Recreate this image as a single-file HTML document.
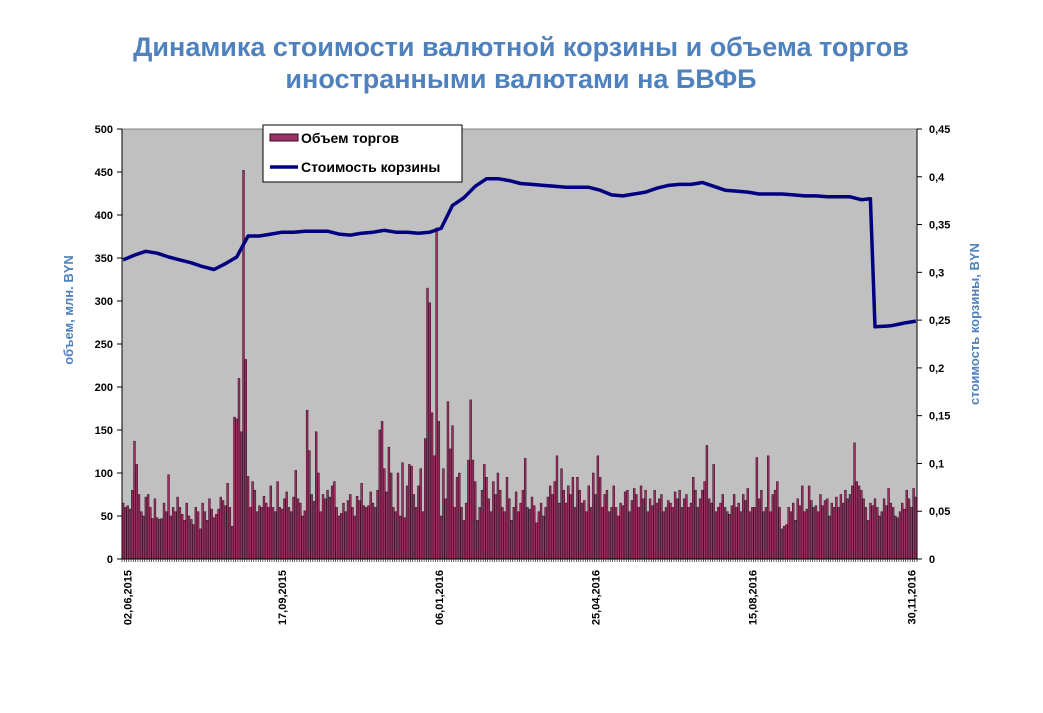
<!DOCTYPE html>
<html><head><meta charset="utf-8"><style>
body{margin:0;background:#fff;width:1043px;height:713px;overflow:hidden}
svg{display:block;font-family:"Liberation Sans",Arial,sans-serif}
</style></head><body>
<svg id="chart" width="1043" height="713">
<text x="521" y="56" text-anchor="middle" font-size="27" font-weight="bold" fill="#4f81bd">Динамика стоимости валютной корзины и объема торгов</text>
<text x="521" y="88" text-anchor="middle" font-size="27" font-weight="bold" fill="#4f81bd">иностранными валютами на БВФБ</text>
<rect x="122" y="129" width="795" height="430" fill="#c0c0c0" stroke="#808080" stroke-width="1"/>
<g id="bars"></g>
<g id="axes"></g>
<polyline id="line" fill="none" stroke="#000080" stroke-width="3.5" stroke-linejoin="round"/>
<g>
<rect x="263" y="125" width="199" height="57" fill="#fff" stroke="#000"/>
<rect x="270" y="134" width="28" height="7" fill="#993366" stroke="#3a0a1c"/>
<text x="301" y="143" font-size="14" font-weight="bold">Объем торгов</text>
<line x1="270" y1="167" x2="298" y2="167" stroke="#000080" stroke-width="3.5"/>
<text x="301" y="172" font-size="14" font-weight="bold">Стоимость корзины</text>
</g>
<text transform="translate(73,310) rotate(-90)" text-anchor="middle" font-size="13" font-weight="bold" fill="#4f81bd">объем, млн. BYN</text>
<text transform="translate(979,324) rotate(-90)" text-anchor="middle" font-size="13" font-weight="bold" fill="#4f81bd">стоимость корзины, BYN</text>
</svg>
<script>
const volumes=[65,60,62,58,80,137,110,75,55,50,
72,75,60,47,70,48,46,47,65,55,
98,50,60,55,72,60,52,45,65,50,
46,40,60,55,35,65,55,45,70,58,
48,52,58,72,68,62,88,60,38,165,
163,210,148,452,232,96,60,90,80,55,
62,60,73,65,60,85,60,55,90,60,
58,70,78,60,55,72,103,70,65,50,
56,173,126,75,67,148,100,55,75,70,
80,72,85,90,60,50,53,65,55,68,
75,60,50,73,68,88,62,60,62,78,
65,60,80,150,160,105,78,130,100,60,
55,100,50,112,48,85,110,108,75,60,
85,105,55,140,315,298,170,120,385,160,
50,105,70,183,128,155,60,95,100,60,
45,65,115,185,115,90,45,60,80,110,
95,70,55,90,75,100,80,60,55,95,
70,45,60,78,55,65,80,117,60,58,
72,62,42,55,65,50,60,72,85,75,
90,120,65,105,80,65,85,75,95,60,
95,80,65,68,55,85,60,100,75,120,
95,60,75,80,55,60,85,60,50,65,
62,78,80,55,68,82,75,60,85,70,
80,55,70,62,80,65,70,75,55,60,
68,65,60,78,70,80,60,70,75,60,
65,95,80,60,70,80,90,132,70,65,
110,55,60,65,75,60,55,52,62,75,
60,65,55,75,68,82,55,60,60,118,
70,80,55,60,120,55,75,80,90,60,
35,38,40,60,55,65,45,70,62,85,
55,58,85,68,60,62,55,75,62,68,
70,50,65,60,72,60,75,65,80,70,
75,85,135,90,85,80,70,60,45,65,
62,70,60,50,55,70,62,82,65,60,
50,48,55,65,58,80,70,60,82,72];
const lineIdx=[0,5,10,15,20,25,30,35,40,45,50,55,60,65,70,75,80,85,90,95,100,105,110,115,120,125,130,135,140,145,150,155,160,165,170,175,180,185,190,195,200,205,210,215,220,225,230,235,240,245,250,255,260,265,270,275,280,285,290,295,300,305,310,315,320,325,329,331,338,344,349];
const lineVal=[0.313,0.318,0.322,0.320,0.316,0.313,0.310,0.306,0.303,0.309,0.316,0.338,0.338,0.340,0.342,0.342,0.343,0.343,0.343,0.340,0.339,0.341,0.342,0.344,0.342,0.342,0.341,0.342,0.346,0.370,0.378,0.390,0.398,0.398,0.396,0.393,0.392,0.391,0.390,0.389,0.389,0.389,0.386,0.381,0.380,0.382,0.384,0.388,0.391,0.392,0.392,0.394,0.390,0.386,0.385,0.384,0.382,0.382,0.382,0.381,0.380,0.380,0.379,0.379,0.379,0.376,0.377,0.243,0.244,0.247,0.249];
const leftTicks=[0,50,100,150,200,250,300,350,400,450,500];
const rightTicks=["0","0,05","0,1","0,15","0,2","0,25","0,3","0,35","0,4","0,45"];
const dateLabels=["02,06,2015","17,09,2015","06,01,2016","25,04,2016","15,08,2016","30,11,2016"];
const dateIdx=[2,70,139,208,277,347];

const X0=122,X1=917,Y0=559,Y1=129,N=volumes.length,step=(X1-X0)/N;
const xs=i=>X0+(i+0.5)*step;
const yL=v=>Y0-(v/500)*(Y0-Y1);
const yR=v=>Y0-(v/0.45)*(Y0-Y1);
const NS="http://www.w3.org/2000/svg";
function mk(t,a){const e=document.createElementNS(NS,t);for(const k in a)e.setAttribute(k,a[k]);return e;}
const bars=document.getElementById('bars');
volumes.forEach((v,i)=>{const r=mk('rect',{x:(xs(i)-step/2+0.2).toFixed(2),y:yL(v).toFixed(2),width:(step-0.4).toFixed(2),height:(Y0-yL(v)).toFixed(2),fill:'#993366',stroke:'#3a0a1c','stroke-width':0.5});


bars.appendChild(r);});
document.getElementById('line').setAttribute('points',lineIdx.map((k,j)=>xs(k).toFixed(1)+','+yR(lineVal[j]).toFixed(1)).join(' '));
const ax=document.getElementById('axes');
ax.appendChild(mk('line',{x1:X0,y1:Y1,x2:X0,y2:Y0,stroke:'#000'}));
ax.appendChild(mk('line',{x1:X1,y1:Y1,x2:X1,y2:Y0,stroke:'#000'}));
ax.appendChild(mk('line',{x1:X0,y1:Y0,x2:X1,y2:Y0,stroke:'#000'}));
leftTicks.forEach(v=>{const y=yL(v);ax.appendChild(mk('line',{x1:X0-5,y1:y,x2:X0,y2:y,stroke:'#000'}));
const t=mk('text',{x:X0-9,y:y+4,'text-anchor':'end','font-size':11,'font-weight':'bold'});t.textContent=v;


ax.appendChild(t);});
rightTicks.forEach((s,i)=>{const y=yR(i*0.05);ax.appendChild(mk('line',{x1:X1,y1:y,x2:X1+5,y2:y,stroke:'#000'}));
const t=mk('text',{x:X1+12,y:y+4,'font-size':11,'font-weight':'bold'});t.textContent=s;


ax.appendChild(t);});
for(let i=0;i<=N;i++){const x=X0+i*step;ax.appendChild(mk('line',{x1:x,y1:Y0,x2:x,y2:Y0+3,stroke:'#000','stroke-width':0.6}));}
dateLabels.forEach((s,j)=>{const x=xs(dateIdx[j]);const t=mk('text',{transform:`translate(${(x+4).toFixed(1)},570) rotate(-90)`,'text-anchor':'end','font-size':11,'font-weight':'bold'});t.textContent=s;


ax.appendChild(t);});
</script>
</body></html>
